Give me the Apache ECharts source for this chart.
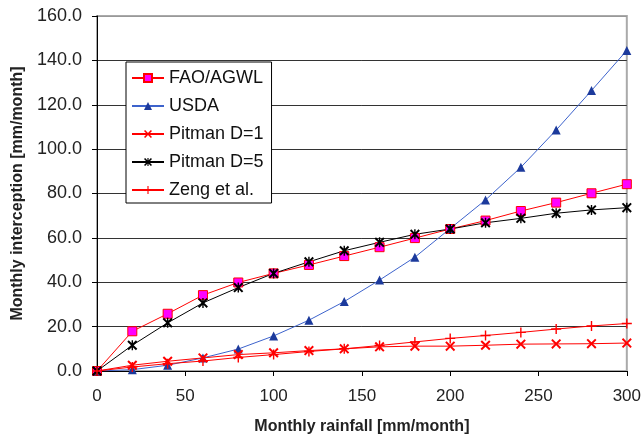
<!DOCTYPE html>
<html>
<head>
<meta charset="utf-8">
<script src="https://cdn.jsdelivr.net/npm/echarts@6/dist/echarts.min.js"></script>
<style>
  html, body { margin: 0; padding: 0; background: #fff; }
  #chart { width: 644px; height: 441px; }
</style>
</head>
<body>
<div id="chart"></div>
<script>
// monthly rainfall (mm/month)
const rainfall = [0, 20, 40, 60, 80, 100, 120, 140, 160, 180, 200, 220, 240, 260, 280, 300];

const fao = [0, 17.9, 25.8, 34.2, 39.9, 44, 47.8, 51.8, 55.8, 59.9, 64, 67.8, 72.1, 75.9, 80.1, 84.2];
const usda = [0, 0.6, 2.6, 5.9, 9.9, 15.8, 22.9, 31.3, 41, 51.3, 64.2, 77.1, 91.8, 108.6, 126.4, 144.5];
const pitman1 = [0, 2.6, 4.4, 5.9, 7.4, 8.2, 9.2, 10, 10.9, 11.2, 11.2, 11.6, 12.1, 12.2, 12.3, 12.6];
const pitman5 = [0, 11.6, 21.7, 30.7, 37.6, 44, 49.2, 54.2, 58, 61.6, 64, 66.8, 68.8, 71.1, 72.6, 73.6];
const zeng = [0, 1.8, 3.3, 4.5, 6.1, 7.4, 8.8, 10, 11.5, 13.1, 14.7, 16, 17.4, 18.9, 20.3, 21.4];

const seriesNames = ['FAO/AGWL', 'USDA', 'Pitman D=1', 'Pitman D=5', 'Zeng et al.'];
const yTicks = [0, 20, 40, 60, 80, 100, 120, 140, 160];

// marker shapes (filled outlines so they render like thin strokes)
const crossMark = 'path://M0,1.4L1.4,0L5,3.6L8.6,0L10,1.4L6.4,5L10,8.6L8.6,10L5,6.4L1.4,10L0,8.6L3.6,5Z';
const plusMark = 'path://M4.3,0H5.7V4.3H10V5.7H5.7V10H4.3V5.7H0V4.3H4.3Z';
const starMark = 'path://M0,1.4L1.4,0L5,3.6L8.6,0L10,1.4L6.4,5L10,8.6L8.6,10L5,6.4L1.4,10L0,8.6L3.6,5Z M4.3,0H5.7V10H4.3Z';

const pairs = arr => rainfall.map((x, i) => [x, arr[i]]);

const chart = echarts.init(document.getElementById('chart'));

const option = {
  animation: false,
  backgroundColor: '#fff',
  grid: {
    left: 97,
    right: 16,
    top: 16,
    bottom: 70,
    show: true,
    borderColor: '#aaa',
    borderWidth: 2
  },
  legend: {
    orient: 'vertical',
    left: 126,
    top: 62,
    backgroundColor: '#fff',
    borderColor: '#000',
    borderWidth: 1,
    padding: [7, 8, 4, 5],
    itemWidth: 32,
    itemHeight: 10,
    itemGap: 10,
    textStyle: {
      fontFamily: 'Liberation Sans, Arial, sans-serif',
      fontSize: 18,
      color: '#111'
    },
    data: seriesNames
  },
  xAxis: {
    type: 'value',
    min: 0,
    max: 300,
    interval: 50,
    name: 'Monthly rainfall [mm/month]',
    nameLocation: 'middle',
    nameGap: 48,
    nameTextStyle: {
      fontFamily: 'Liberation Sans, Arial, sans-serif',
      fontSize: 16,
      fontWeight: 'bold',
      color: '#222'
    },
    axisLine: { show: true, lineStyle: { color: '#000', width: 1 } },
    axisTick: { show: true, inside: false, length: 5, lineStyle: { color: '#000' } },
    axisLabel: {
      margin: 17,
      fontFamily: 'Liberation Sans, Arial, sans-serif',
      fontSize: 17,
      color: '#222'
    },
    splitLine: { show: false }
  },
  yAxis: {
    type: 'value',
    min: 0,
    max: 160,
    interval: 20,
    name: 'Monthly interception [mm/month]',
    nameLocation: 'middle',
    nameGap: 71,
    nameTextStyle: {
      fontFamily: 'Liberation Sans, Arial, sans-serif',
      fontSize: 16,
      fontWeight: 'bold',
      color: '#222'
    },
    axisLine: { show: true, lineStyle: { color: '#000', width: 1 } },
    axisTick: { show: true, inside: false, length: 5, lineStyle: { color: '#000' } },
    axisLabel: {
      margin: 15,
      fontFamily: 'Liberation Sans, Arial, sans-serif',
      fontSize: 18,
      color: '#222',
      formatter: v => v.toFixed(1)
    },
    splitLine: {
      show: true,
      lineStyle: {
        color: yTicks.map((t, i) => (i === yTicks.length - 1 ? '#999' : '#333')),
        width: 1
      }
    }
  },
  series: [
    {
      name: seriesNames[0],
      type: 'line',
      data: pairs(fao),
      symbol: 'rect',
      symbolSize: 9,
      lineStyle: { color: '#ff0000', width: 1 },
      itemStyle: { color: '#ff00ff', borderColor: '#ff0000', borderWidth: 1 }
    },
    {
      name: seriesNames[1],
      type: 'line',
      data: pairs(usda),
      symbol: 'triangle',
      symbolSize: 9,
      lineStyle: { color: '#3d63cc', width: 1 },
      itemStyle: { color: '#1c3a9c', borderColor: '#1c3a9c', borderWidth: 0 }
    },
    {
      name: seriesNames[2],
      type: 'line',
      data: pairs(pitman1),
      symbol: crossMark,
      symbolSize: 10,
      lineStyle: { color: '#ff0000', width: 1 },
      itemStyle: { color: '#ff0000', borderWidth: 0 }
    },
    {
      name: seriesNames[3],
      type: 'line',
      data: pairs(pitman5),
      symbol: starMark,
      symbolSize: 10,
      lineStyle: { color: '#000', width: 1 },
      itemStyle: { color: '#000', borderWidth: 0 }
    },
    {
      name: seriesNames[4],
      type: 'line',
      data: pairs(zeng),
      symbol: plusMark,
      symbolSize: 10,
      lineStyle: { color: '#ff0000', width: 1 },
      itemStyle: { color: '#ff0000', borderWidth: 0 }
    }
  ]
};

chart.setOption(option);
</script>
</body>
</html>
